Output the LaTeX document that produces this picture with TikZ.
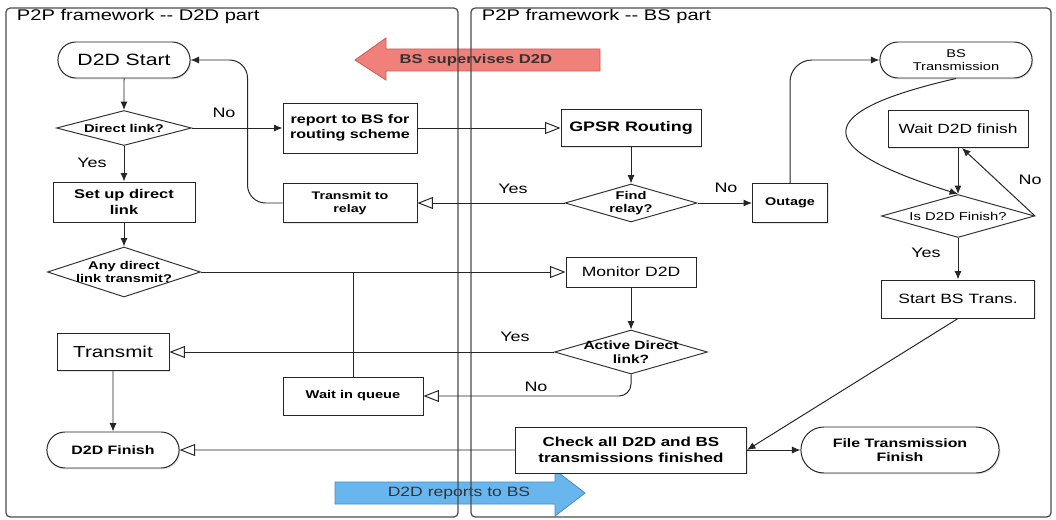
\documentclass[tikz,border=0pt]{standalone}
\usepackage{fontspec}
\setmainfont[FakeStretch=1.3]{Liberation Sans}
\usetikzlibrary{arrows.meta,shapes.geometric,shapes.misc,shadows}
\definecolor{supred}{RGB}{240,128,122}
\definecolor{supredline}{RGB}{205,90,85}
\definecolor{repblue}{RGB}{105,182,238}
\definecolor{repblueline}{RGB}{70,140,200}
\newdimen\px \px=0.025cm

\begin{document}
\begin{tikzpicture}[x=0.025cm, y=-0.025cm,
    box/.style={draw=black!85, line width=0.7pt, fill=white, align=center, inner sep=1pt,
      drop shadow={shadow xshift=1pt, shadow yshift=-1pt, opacity=0.2}},
    pill/.style={box, rounded rectangle},
    dec/.style={draw=black!80, line width=0.7pt, fill=white, diamond, inner sep=0pt},
    dtxt/.style={align=center, font=\fontsize{8}{9.4}\selectfont\bfseries},
    sz/.style 2 args={minimum width=#1\px, minimum height=#2\px},
    arr/.style={draw=black!85, line width=0.7pt, -{Latex[length=6pt,width=5pt]}},
    oarr/.style={draw=black!85, line width=0.7pt, -{Triangle[open,length=11pt,width=8.5pt]}},
    lbl/.style={font=\fontsize{9.8}{11}\selectfont},
    panel/.style={draw=black!70, line width=0.9pt, rounded corners=3pt}]
  \useasboundingbox (0,0) rectangle (1056,519);

  % Draw the two big arrows
  \filldraw[fill=supred, draw=supredline, line width=0.6pt]
    (355,60) -- (386,38) -- (386,49) -- (600,49) -- (600,71) -- (386,71) -- (386,80) -- cycle;
  \node[font=\fontsize{9.1}{11}\selectfont\bfseries, text=black!80] (sup) at (476,60) {BS supervises D2D};
  \filldraw[fill=repblue, draw=repblueline, line width=0.6pt]
    (335,482) -- (555,482) -- (555,470) -- (585,493) -- (555,516) -- (555,504) -- (335,504) -- cycle;
  \node[font=\fontsize{9.6}{11}\selectfont, text=black!80] (rep) at (459,493) {D2D reports to BS};

  % Draw the two panels
  \draw[panel] (6,8) rectangle (458,517);
  \draw[panel] (471,8) rectangle (1051,517);
  \node[anchor=west, font=\fontsize{11}{13}\selectfont] (ttl) at (12,17) {P2P framework -{}- D2D part};
  \node[anchor=west, font=\fontsize{11}{13}\selectfont] (ttr) at (477,17) {P2P framework -{}- BS part};

  % D2D part
  \node[pill, sz={135}{36}, font=\fontsize{11.6}{14}\selectfont] (start) at (124,60) {D2D Start};
  \node[dec, sz={135}{35}, label={[dtxt]center:Direct link?}] (direct) at (124,128) {};
  \node[box, sz={142}{40}, font=\fontsize{9}{11}\selectfont\bfseries] (setup) at (124,202) {Set up direct\\link};
  \node[dec, sz={153}{50}, label={[dtxt]center:{Any direct\\link transmit?}}] (anyd) at (124,272) {};
  \node[box, sz={112}{37}, font=\fontsize{11.3}{13}\selectfont] (transmit) at (113,352) {Transmit};
  \node[pill, sz={135}{36}, font=\fontsize{8.7}{10}\selectfont\bfseries] (d2dfin) at (113,450) {D2D Finish};
  \node[box, sz={134}{50}, font=\fontsize{8.8}{10.6}\selectfont\bfseries] (report) at (350,128) {report to BS for\\routing scheme};
  \node[box, sz={134}{39}, font=\fontsize{7.8}{9.6}\selectfont\bfseries] (relay) at (350,203) {Transmit to\\relay};
  \node[box, sz={140}{38}, font=\fontsize{8}{10}\selectfont\bfseries] (wait) at (353,396) {Wait in queue};

  % BS part
  \node[box, sz={140}{37}, font=\fontsize{9.8}{12}\selectfont\bfseries] (gpsr) at (631,128) {GPSR Routing};
  \node[dec, sz={132}{38}, label={[dtxt]center:{Find\\relay?}}] (findr) at (631,203) {};
  \node[box, sz={75}{39}, font=\fontsize{7.9}{10}\selectfont\bfseries] (outage) at (790,203) {Outage};
  \node[pill, sz={155}{36}, font=\fontsize{8}{9.6}\selectfont] (bstx) at (956,60) {BS\\Transmission};
  \node[box, sz={140}{37}, font=\fontsize{9.5}{11}\selectfont] (waitd) at (958,129) {Wait D2D finish};
  \node[dec, sz={153}{43}, label={[dtxt, font=\fontsize{8.1}{9.6}\selectfont]center:Is D2D Finish?}] (isfin) at (958,216) {};
  \node[box, sz={153}{38}, font=\fontsize{9.6}{11}\selectfont] (startbs) at (958,299) {Start BS Trans.};
  \node[box, sz={130}{30}, font=\fontsize{9.6}{11}\selectfont] (monitor) at (631,272) {Monitor D2D};
  \node[dec, sz={153}{44}, label={[dtxt, font=\fontsize{8.5}{9.6}\selectfont\bfseries]center:{Active Direct\\link?}}] (active) at (631,352) {};
  \node[box, sz={231}{46}, font=\fontsize{9.3}{11}\selectfont\bfseries] (check) at (631,450) {Check all D2D and BS\\transmissions finished};
  \node[pill, sz={201}{46}, font=\fontsize{8.7}{10.4}\selectfont\bfseries] (filef) at (900,450) {File Transmission\\Finish};

  % Yes / No labels
  \node[lbl] (yes1) at (92,163) {Yes};
  \node[lbl] (no1) at (224,113) {No};
  \node[lbl] (yes2) at (513,189) {Yes};
  \node[lbl] (no2) at (726,188) {No};
  \node[lbl] (no3) at (1030,180) {No};
  \node[lbl] (yes3) at (926,253) {Yes};
  \node[lbl] (yes4) at (515,337) {Yes};
  \node[lbl] (no4) at (536,387) {No};

  % Connectors of the D2D part
  \draw[arr] (start) -- (direct);
  \draw[arr] (direct) -- (setup);
  \draw[arr] (setup) -- (anyd);
  \draw[arr] (direct) -- (report);
  \draw[arr, rounded corners=18\px] (relay.west) -- ++(-35,0) |- (start.east);
  \draw[arr] (transmit) -- (d2dfin);
  \draw[draw=black!85, line width=0.7pt] (wait.north) -- (wait.north |- anyd.east);

  % Connectors between the parts
  \draw[oarr] (report) -- (gpsr);
  \draw[oarr] (findr) -- (relay);
  \draw[oarr] (anyd) -- (monitor);
  \draw[oarr] (active) -- (transmit);
  \draw[oarr, rounded corners=12\px] (active.south) |- (wait.east);
  \draw[oarr, {Triangle[open,length=11pt,width=8.5pt]}-] (d2dfin) -- (check);

  % Connectors of the BS part
  \draw[arr] (gpsr) -- (findr);
  \draw[arr] (findr) -- (outage);
  \draw[arr, rounded corners=22\px] (outage.north) |- (bstx.west);
  \draw[arr] (bstx.south) .. controls (810,112) and (810,148) .. (isfin.north);
  \draw[arr] (waitd) -- (isfin);
  \draw[arr] (isfin.east) -- ([xshift=4\px]waitd.south);
  \draw[arr] (isfin) -- (startbs);
  \draw[arr] (startbs.south) -- (check.east);
  \draw[arr] (monitor) -- (active);
  \draw[arr] (check) -- (filef);
\end{tikzpicture}
\end{document}
